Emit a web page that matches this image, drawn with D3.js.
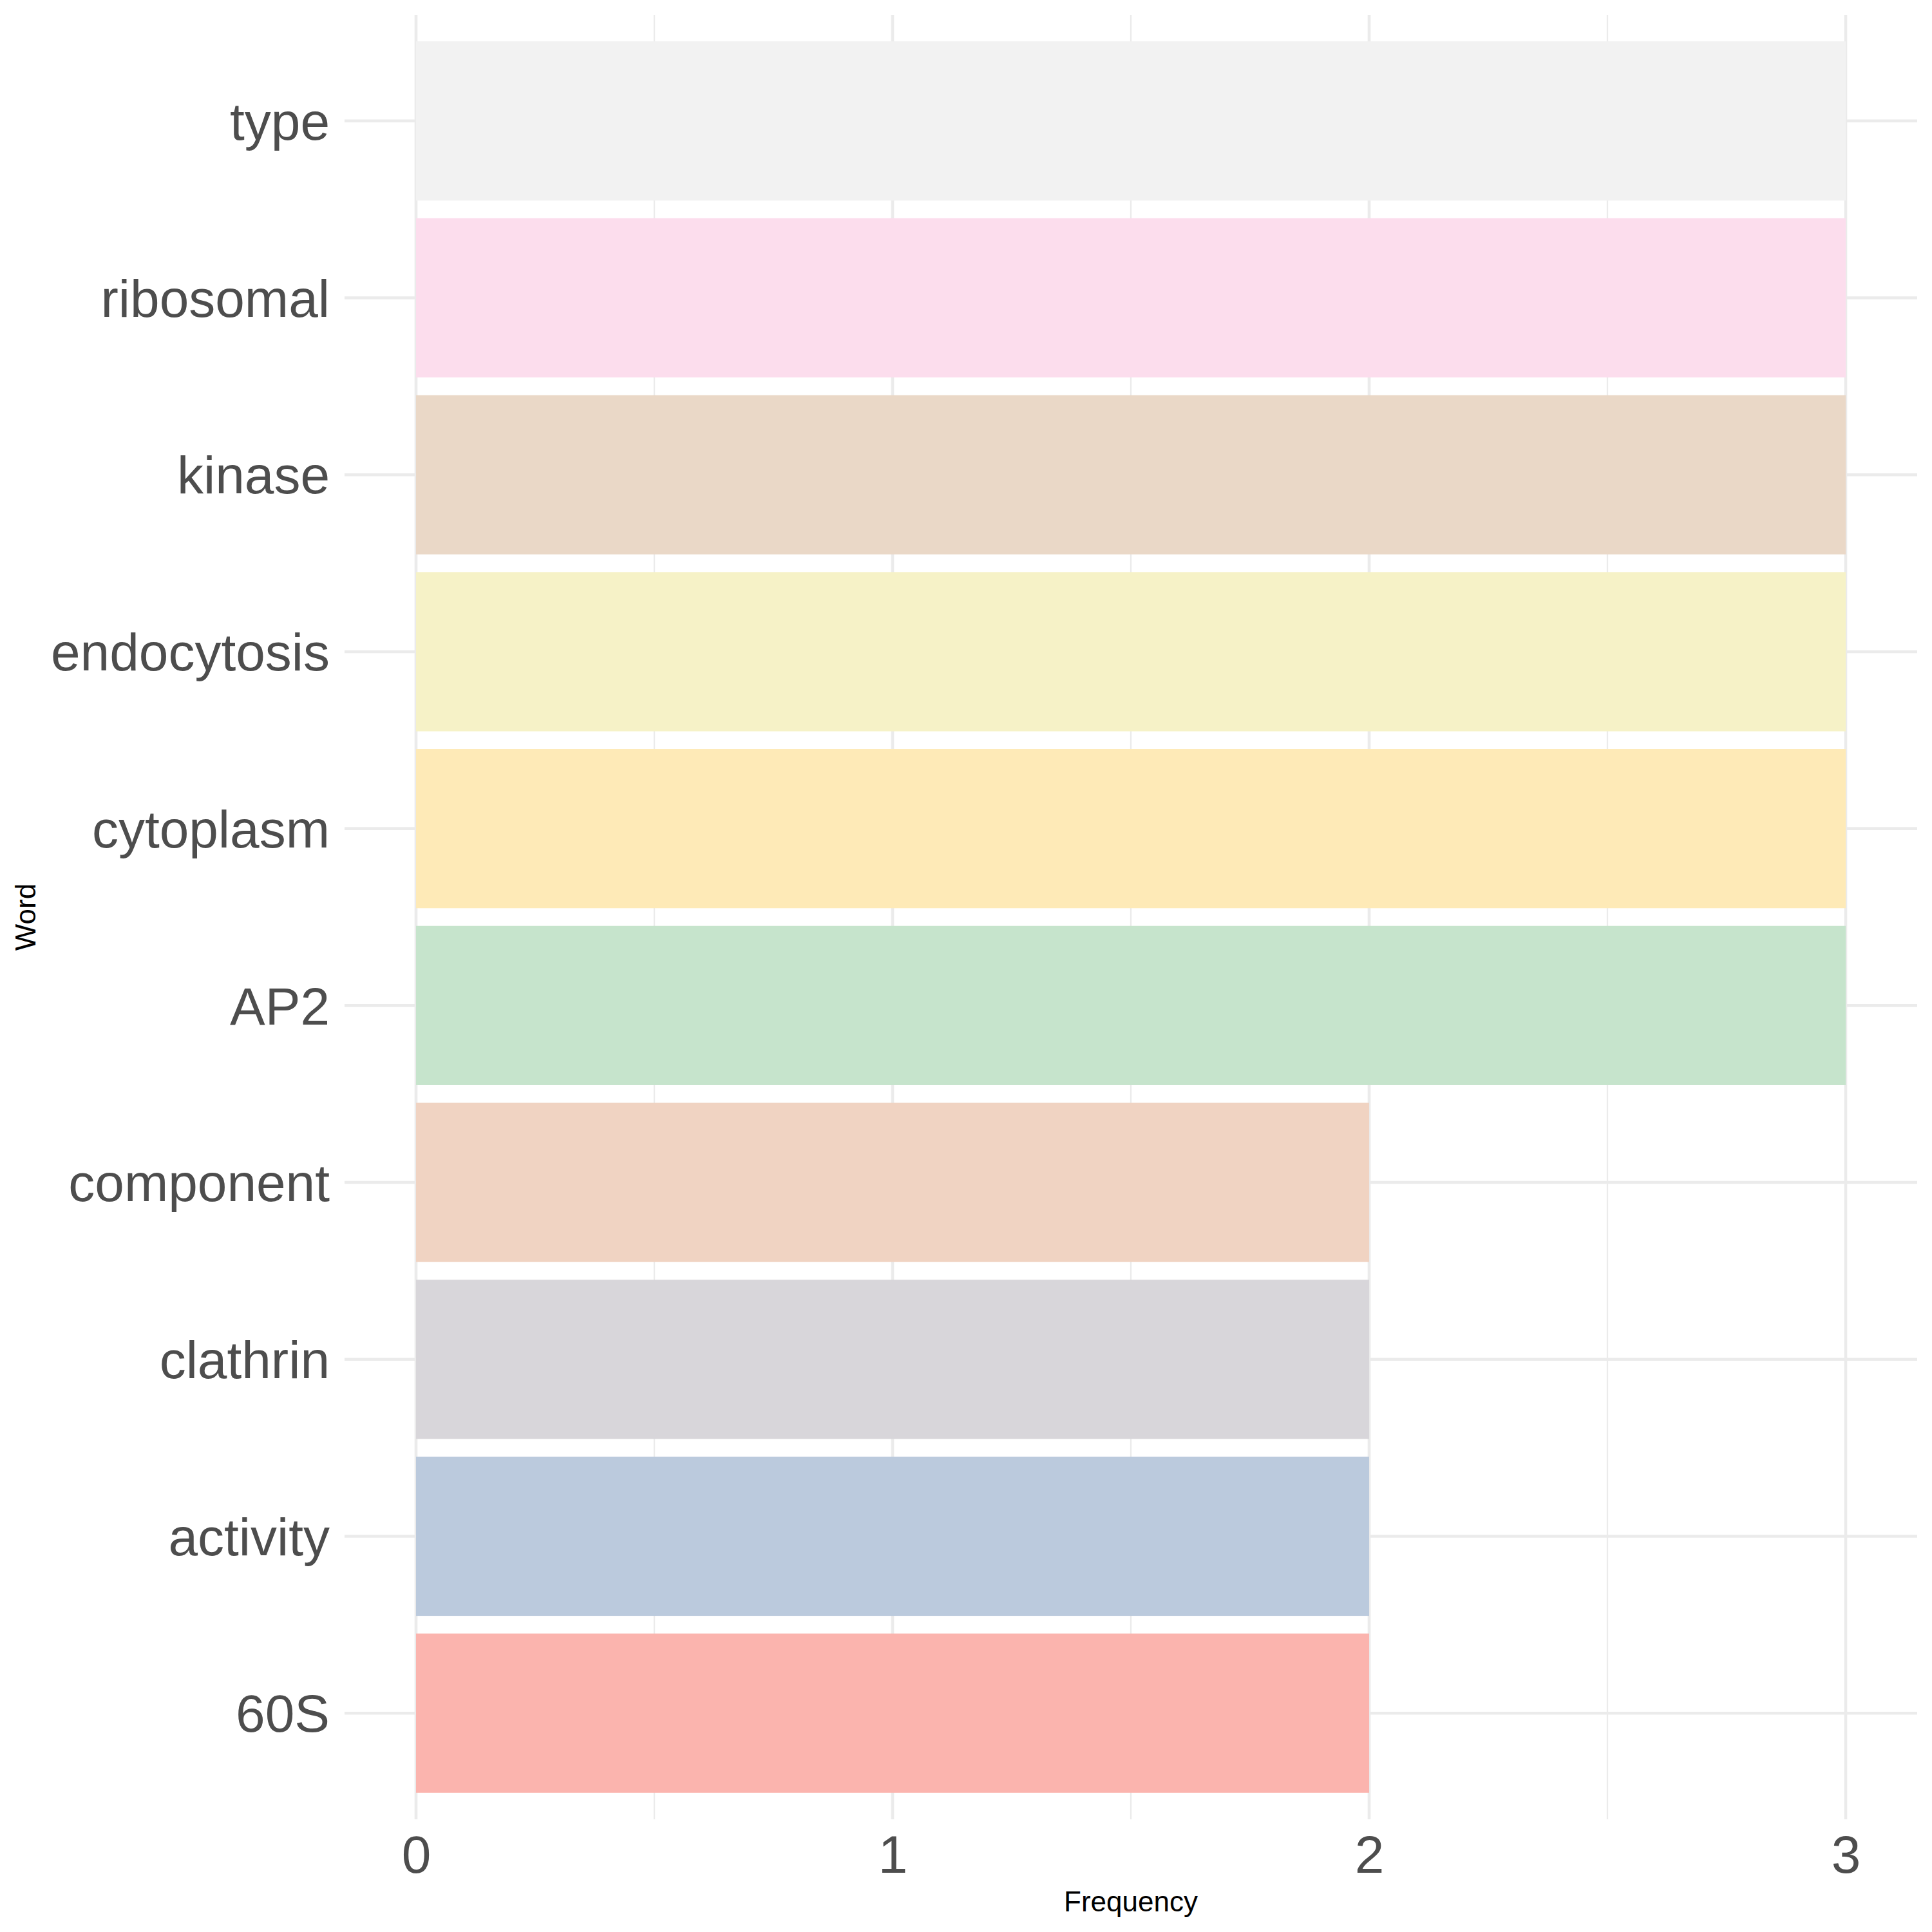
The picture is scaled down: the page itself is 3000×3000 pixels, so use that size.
<!DOCTYPE html>
<html>
<head>
<meta charset="utf-8">
<script src="https://cdn.jsdelivr.net/npm/d3@7"></script>
<style>
  body { margin: 0; background: #fff; }
  text { font-family: "Liberation Sans", Arial, sans-serif; }
</style>
</head>
<body>
<script>
// words top to bottom, with their counts
var words = ["type", "ribosomal", "kinase", "endocytosis", "cytoplasm", "AP2", "component", "clathrin", "activity", "60S"]
var counts = [3, 3, 3, 3, 3, 3, 2, 2, 2, 2]
// fill levels follow alphabetical (case-insensitive) order
var fillLevels = ["60S", "activity", "AP2", "clathrin", "component", "cytoplasm", "endocytosis", "kinase", "ribosomal", "type"]
var xMajor = [0, 1, 2, 3]
var xMinor = [0.5, 1.5, 2.5]

var width = 3000, height = 3000
var panel = {left: 535, right: 2977, top: 23, bottom: 2825}
var gridColor = "#ebebeb"

// Pastel1 stretched over ten levels
var ramp = d3.piecewise(d3.interpolateRgb, d3.schemePastel1)
var fill = d3.scaleOrdinal()
  .domain(fillLevels)
  .range(fillLevels.map(function(d, i){ return ramp(i / (fillLevels.length - 1)) }))

var svg = d3.select("body").append("svg")
  .attr("width", width)
  .attr("height", height)

// 0.15 expansion on each side of 0..3
var x = d3.scaleLinear()
  .domain([-0.15, 3.15])
  .range([panel.left, panel.right])

// discrete axis with 0.6 extra on each end
var step = (panel.bottom - panel.top) / (words.length - 1 + 1.2)
var y = d3.scalePoint()
  .domain(words)
  .range([panel.top + 0.6 * step, panel.bottom - 0.6 * step])

var grid = svg.append("g")

grid.selectAll(".minor")
  .data(xMinor)
  .join("line")
  .attr("x1", function(d){ return x(d) })
  .attr("x2", function(d){ return x(d) })
  .attr("y1", panel.top)
  .attr("y2", panel.bottom)
  .attr("stroke", gridColor)
  .attr("stroke-width", 2.3)

grid.selectAll(".major-x")
  .data(xMajor)
  .join("line")
  .attr("x1", function(d){ return x(d) })
  .attr("x2", function(d){ return x(d) })
  .attr("y1", panel.top)
  .attr("y2", panel.bottom)
  .attr("stroke", gridColor)
  .attr("stroke-width", 4.6)

grid.selectAll(".major-y")
  .data(words)
  .join("line")
  .attr("x1", panel.left)
  .attr("x2", panel.right)
  .attr("y1", function(d){ return y(d) })
  .attr("y2", function(d){ return y(d) })
  .attr("stroke", gridColor)
  .attr("stroke-width", 4.6)

var barHeight = step * 0.9

svg.append("g").selectAll("rect")
  .data(words)
  .join("rect")
  .attr("x", x(0))
  .attr("y", function(d){ return y(d) - barHeight / 2 })
  .attr("width", function(d, i){ return x(counts[i]) - x(0) })
  .attr("height", barHeight)
  .attr("fill", function(d){ return fill(d) })

// y tick labels
var yAxis = d3.axisLeft(y).tickSize(0).tickPadding(0)
var yg = svg.append("g")
  .attr("transform", "translate(512,0)")
  .call(yAxis)
yg.select(".domain").remove()
yg.selectAll("text")
  .attr("x", 0)
  .attr("dy", "0.35em")
  .attr("fill", "#4d4d4d")
  .style("font-size", "82px")
  .style("font-family", "'Liberation Sans', Arial, sans-serif")

// x tick labels
var xAxis = d3.axisBottom(x).tickValues(xMajor).tickFormat(d3.format("d")).tickSize(0).tickPadding(0)
var xg = svg.append("g")
  .attr("transform", "translate(0,2908)")
  .call(xAxis)
xg.select(".domain").remove()
xg.selectAll("text")
  .attr("y", 0)
  .attr("dy", 0)
  .attr("fill", "#4d4d4d")
  .style("font-size", "82px")
  .style("font-family", "'Liberation Sans', Arial, sans-serif")

svg.append("text")
  .attr("x", (panel.left + panel.right) / 2)
  .attr("y", 2968)
  .attr("text-anchor", "middle")
  .attr("fill", "#000")
  .style("font-size", "44px")
  .text("Frequency")

svg.append("text")
  .attr("transform", "translate(55," + ((panel.top + panel.bottom) / 2) + ") rotate(-90)")
  .attr("text-anchor", "middle")
  .attr("fill", "#000")
  .style("font-size", "44px")
  .text("Word")
</script>
</body>
</html>
